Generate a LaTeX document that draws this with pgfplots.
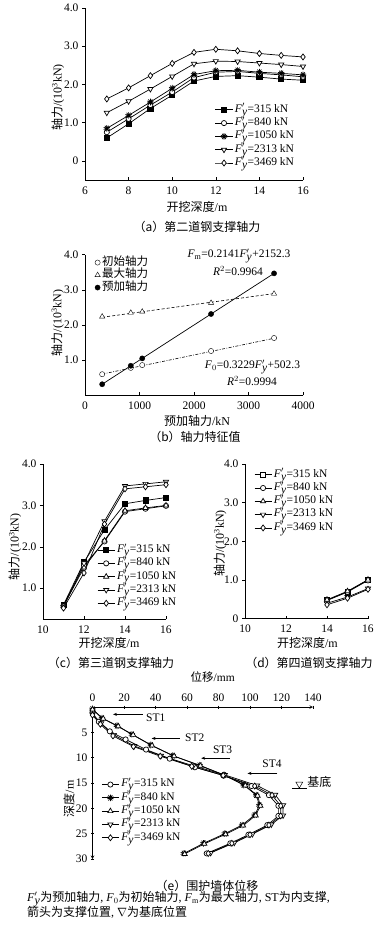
\documentclass[border=0pt]{standalone}
\usepackage{fontspec}
\setmainfont{Liberation Serif}
\newfontfamily\cjk{Noto Sans CJK SC}
\usepackage{pgfplots}
\pgfplotsset{compat=1.18}
\usetikzlibrary{plotmarks,arrows.meta,shapes.geometric}
\newcommand{\zh}[1]{{\cjk #1}}
\newcommand{\Fy}{\textit{F}$'_{\textit{y}}$}
\pgfplotsset{
  /pgf/number format/assume math mode=true,
  /pgf/number format/1000 sep={},
  panel/.style={
    scale only axis, axis lines=left, axis line style={-, line width=0.6pt},
    enlargelimits=false, clip=false,
    tick align=outside, major tick length=3pt,
    tick style={black, line width=0.6pt},
    xtick style={yshift=3pt},
    font=\fontsize{11.5}{13}\selectfont,
    label style={font=\fontsize{12}{14}\selectfont},
    xlabel style={anchor=center},
    ylabel style={anchor=center, rotate=0},
    legend cell align=left,
    legend style={draw=none, fill=none, inner sep=0pt, row sep=0pt,
      nodes={inner ysep=1.5pt, inner xsep=2pt, text height=7.5pt, text depth=2.8pt},
      font=\fontsize{11.5}{13}\selectfont},
  },
  base/.style={black, line width=0.7pt, mark size=2.6pt},
  s315/.style={base, mark=square*, mark options={fill=black, solid}},
  s315o/.style={base, mark=square*, mark options={fill=white, solid}},
  s840/.style={base, mark=*, mark options={fill=white, solid}},
  s1050/.style={base, mark=10-pointed star, mark options={fill=white, solid}, mark size=3.3pt},
  s1050t/.style={base, mark=triangle*, mark options={fill=white, solid}, mark size=3pt},
  s2313/.style={base, mark=triangle*, mark options={fill=white, solid, rotate=180}, mark size=3pt},
  s3469/.style={base, mark=diamond*, mark options={fill=white, solid}, mark size=3pt},
}
\begin{document}
\begin{tikzpicture}[x=1pt,y=1pt]
\path[use as bounding box] (0,0) rectangle (391,-936);

% ---------------- (a)
\begin{axis}[panel, at={(85pt,-180pt)}, anchor=south west,
  width=218pt, height=172pt,
  xmin=6, xmax=16, ymin=-0.5, ymax=4,
  xtick={6,8,...,16}, ytick={0,1,2,3,4}, yticklabels={0,1.0,2.0,3.0,4.0},
  xlabel={\zh{开挖深度}/m}, ylabel={\zh{轴力}/(10\textsuperscript{3}kN)},
  xlabel style={at={(axis description cs:0.514,-0.157)}},
  ylabel style={at={(axis description cs:-0.124,0.48)}},
  legend style={at={(axis description cs:0.596,0.448)}, anchor=north west}]
\addplot[s315] coordinates {(7,0.60)(8,0.97)(9,1.37)(10,1.72)(11,2.09)(12,2.21)(13,2.23)(14,2.19)(15,2.14)(16,2.11)};
\addplot[s840] coordinates {(7,0.75)(8,1.10)(9,1.46)(10,1.80)(11,2.18)(12,2.32)(13,2.34)(14,2.29)(15,2.25)(16,2.20)};
\addplot[s1050] coordinates {(7,0.85)(8,1.19)(9,1.54)(10,1.90)(11,2.26)(12,2.36)(13,2.37)(14,2.32)(15,2.29)(16,2.25)};
\addplot[s2313] coordinates {(7,1.26)(8,1.56)(9,1.88)(10,2.21)(11,2.54)(12,2.61)(13,2.60)(14,2.56)(15,2.52)(16,2.47)};
\addplot[s3469] coordinates {(7,1.62)(8,1.91)(9,2.23)(10,2.55)(11,2.84)(12,2.92)(13,2.88)(14,2.81)(15,2.76)(16,2.72)};
\legend{\Fy=315 kN,\Fy=840 kN,\Fy=1050 kN,\Fy=2313 kN,\Fy=3469 kN}
\end{axis}
\node[font=\fontsize{12}{14}\selectfont] at (197,-226.7) {\zh{（a）第二道钢支撑轴力}};

% ---------------- (b)
\begin{axis}[panel, at={(85pt,-395.3pt)}, anchor=south west,
  width=218pt, height=140.6pt,
  xmin=0, xmax=4000, ymin=0, ymax=4,
  xtick={0,1000,...,4000}, ytick={1,2,3,4}, yticklabels={1.0,2.0,3.0,4.0},
  xlabel={\zh{预加轴力}/kN}, ylabel={\zh{轴力}/(10\textsuperscript{3}kN)},
  xlabel style={at={(axis description cs:0.514,-0.18)}},
  ylabel style={at={(axis description cs:-0.126,0.514)}},
  legend style={at={(axis description cs:0.045,0.99)}, anchor=north west,
    nodes={text height=7.5pt, text depth=2pt}},
  legend image code/.code={\draw[mark repeat=2,mark phase=2] plot coordinates {(0cm,0cm)(0.15cm,0cm)(0.3cm,0cm)};}]
\addplot[black, line width=0.6pt, dash pattern=on 3pt off 1.5pt on 0.8pt off 1.5pt, forget plot] coordinates {(315,0.604)(3469,1.622)};
\addplot[black, line width=0.6pt, dash pattern=on 3pt off 2pt, forget plot] coordinates {(315,2.220)(3469,2.895)};
\addplot[black, line width=0.7pt, forget plot] coordinates {(315,0.315)(3469,3.469)};
\addplot[only marks, mark=*, mark options={fill=white, draw=black}, mark size=2.6pt] coordinates {(315,0.60)(840,0.78)(1050,0.86)(2313,1.26)(3469,1.63)};
\addplot[only marks, mark=triangle*, mark options={fill=white, draw=black}, mark size=3pt] coordinates {(315,2.24)(840,2.35)(1050,2.38)(2313,2.63)(3469,2.89)};
\addplot[only marks, mark=*, mark options={fill=black, draw=black}, mark size=2.6pt] coordinates {(315,0.315)(840,0.84)(1050,1.05)(2313,2.313)(3469,3.469)};
\legend{\zh{初始轴力},\zh{最大轴力},\zh{预加轴力}}
\node[font=\fontsize{11.5}{13}\selectfont] at (axis cs:2826,3.96) {\textit{F}$_{\mathrm{m}}$=0.2141\Fy+2152.3};
\node[font=\fontsize{11.5}{13}\selectfont] at (axis cs:2807,3.54) {\textit{R}$^{2}$=0.9964};
\node[font=\fontsize{11.5}{13}\selectfont] at (axis cs:3073,0.80) {\textit{F}$_{0}$=0.3229\Fy+502.3};
\node[font=\fontsize{11.5}{13}\selectfont] at (axis cs:3064,0.41) {\textit{R}$^{2}$=0.9994};
\end{axis}
\node[font=\fontsize{12}{14}\selectfont] at (195,-437) {\zh{（b）轴力特征值}};

% ---------------- (c)
\begin{axis}[panel, at={(43pt,-619.3pt)}, anchor=south west,
  width=123pt, height=155.3pt,
  xmin=10, xmax=16, ymin=0.25, ymax=4,
  xtick={10,12,14,16}, ytick={1,2,3,4}, yticklabels={1.0,2.0,3.0,4.0},
  xlabel={\zh{开挖深度}/m}, ylabel={\zh{轴力}/(10\textsuperscript{3}kN)},
  xlabel style={at={(axis description cs:0.537,-0.155)}},
  ylabel style={at={(axis description cs:-0.228,0.467)}},
  legend style={at={(axis description cs:0.44,0.49)}, anchor=north west}]
\addplot[s315] coordinates {(11,0.60)(12,1.63)(13,2.41)(14,3.04)(15,3.12)(16,3.19)};
\addplot[s840] coordinates {(11,0.58)(12,1.55)(13,2.13)(14,2.85)(15,2.92)(16,2.99)};
\addplot[s1050t] coordinates {(11,0.57)(12,1.50)(13,2.15)(14,2.87)(15,2.94)(16,3.00)};
\addplot[s2313] coordinates {(11,0.55)(12,1.60)(13,2.62)(14,3.47)(15,3.52)(16,3.57)};
\addplot[s3469] coordinates {(11,0.52)(12,1.37)(13,2.55)(14,3.40)(15,3.45)(16,3.50)};
\legend{\Fy=315 kN,\Fy=840 kN,\Fy=1050 kN,\Fy=2313 kN,\Fy=3469 kN}
\end{axis}
\node[font=\fontsize{12}{14}\selectfont] at (111,-663) {\zh{（c）第三道钢支撑轴力}};

% ---------------- (d)
\begin{axis}[panel, at={(245pt,-618.7pt)}, anchor=south west,
  width=123pt, height=154.7pt,
  xmin=10, xmax=16, ymin=0, ymax=4,
  xtick={10,12,14,16}, ytick={0,1,2,3,4}, yticklabels={0,1.0,2.0,3.0,4.0},
  xlabel={\zh{开挖深度}/m}, ylabel={\zh{轴力}/(10\textsuperscript{3}kN)},
  xlabel style={at={(axis description cs:0.508,-0.159)}},
  ylabel style={at={(axis description cs:-0.203,0.487)}},
  legend style={at={(axis description cs:0.073,0.975)}, anchor=north west}]
\addplot[s315o] coordinates {(14,0.48)(15,0.70)(16,1.00)};
\addplot[s840] coordinates {(14,0.47)(15,0.69)(16,0.99)};
\addplot[s1050t] coordinates {(14,0.49)(15,0.71)(16,1.01)};
\addplot[s2313] coordinates {(14,0.40)(15,0.56)(16,0.78)};
\addplot[s3469] coordinates {(14,0.36)(15,0.53)(16,0.76)};
\legend{\Fy=315 kN,\Fy=840 kN,\Fy=1050 kN,\Fy=2313 kN,\Fy=3469 kN}
\end{axis}
\node[font=\fontsize{12}{14}\selectfont] at (309,-663) {\zh{（d）第四道钢支撑轴力}};

% ---------------- (e)
\begin{axis}[panel, at={(92.5pt,-859pt)}, anchor=south west,
  width=220.5pt, height=152pt,
  axis x line=top, axis y line=left,
  xmin=0, xmax=140, ymin=0, ymax=30, y dir=reverse,
  xtick={0,20,...,140}, ytick={5,10,...,30},
  xtick style={yshift=-3pt},
  xlabel={\zh{位移}/mm}, ylabel={\zh{深度}/m},
  xlabel style={at={(axis description cs:0.545,1.138)}},
  ylabel style={at={(axis description cs:-0.106,0.395)}},
  legend style={at={(axis description cs:0.04,0.535)}, anchor=north west}]
\addplot[base, mark=*, mark options={fill=white, solid}] coordinates {(0,1.2)(4,2.9)(11,4.8)(21,6.4)(34,8.4)(49,10.2)(65,11.9)(83,13.5)(101,15.6)(112,17.4)(118,19.5)(118,21.5)(111,23.3)(99,25.2)(87.5,26.9)(72.5,28.9)};
\addplot[s1050] coordinates {(0,0.4)(6,2.2)(15.5,3.7)(25,5.4)(37,7.5)(51,9.6)(68,11.5)(83.5,13.4)(96,15.4)(104,17.4)(106,19.4)(103,21.3)(95,23.3)(84,25.0)(70.5,26.9)(58,28.9)};
\addplot[s1050t] coordinates {(0,0.5)(6.8,2.3)(16.3,3.8)(25.8,5.5)(37.8,7.6)(51.8,9.7)(68.5,11.6)(84,13.5)(97,15.5)(104.8,17.5)(106.6,19.5)(103.6,21.4)(95.6,23.4)(84.5,25.1)(71,27.0)(58.5,29.0)};
\addplot[s2313] coordinates {(0,1.4)(5.5,3.2)(13.5,5.5)(26.5,7.7)(43.5,9.6)(64,11.6)(84,13.4)(104.5,15.5)(116,17.3)(121,19.4)(121,21.4)(113.5,23.2)(101.5,25.1)(90,26.8)(75,28.8)};
\addplot[s3469] coordinates {(0,1.6)(5,3.4)(13,5.7)(26,7.8)(43,9.7)(63,11.7)(83,13.5)(103,15.6)(114,17.4)(119.5,19.5)(119.5,21.5)(112,23.3)(100,25.2)(88.5,26.9)(73.5,28.9)};
\legend{\Fy=315 kN,\Fy=840 kN,\Fy=1050 kN,\Fy=2313 kN,\Fy=3469 kN}
\draw[-{Stealth[length=4pt,width=3pt]}, line width=0.5pt] (axis cs:32,1.45) -- (axis cs:13,1.45);
\node[font=\fontsize{11.5}{13}\selectfont] at (axis cs:40.2,2.2) {ST1};
\draw[-{Stealth[length=4pt,width=3pt]}, line width=0.5pt] (axis cs:55.4,6.2) -- (axis cs:37.5,6.2);
\node[font=\fontsize{11.5}{13}\selectfont] at (axis cs:64.9,6.1) {ST2};
\draw[-{Stealth[length=4pt,width=3pt]}, line width=0.5pt] (axis cs:87,10.1) -- (axis cs:69,10.1);
\node[font=\fontsize{11.5}{13}\selectfont] at (axis cs:82.6,8.5) {ST3};
\draw[-{Stealth[length=4pt,width=3pt]}, line width=0.5pt] (axis cs:117.4,13.1) -- (axis cs:98.4,13.1);
\node[font=\fontsize{11.5}{13}\selectfont] at (axis cs:114,11.2) {ST4};
\node[draw, isosceles triangle, shape border rotate=-90, isosceles triangle apex angle=60, inner sep=0pt, minimum size=6pt, line width=0.5pt] at (axis cs:131.3,15.2) {};
\draw[line width=0.5pt] (axis cs:126.6,16.0) -- (axis cs:136.5,16.0);
\node[font=\fontsize{12}{14}\selectfont] at (axis cs:144,14.7) {\zh{基底}};
\end{axis}
\node[font=\fontsize{12}{14}\selectfont] at (207,-885.7) {\zh{（e）围护墙体位移}};

\node[anchor=west, font=\fontsize{12}{13}\selectfont, inner sep=0pt] at (27,-899) {\Fy\zh{为预加轴力}, \textit{F}$_{0}$\zh{为初始轴力}, \textit{F}$_{\mathrm{m}}$\zh{为最大轴力}, ST\zh{为内支撑},};
\node[anchor=west, font=\fontsize{12}{13}\selectfont, inner sep=0pt] at (27,-912.5) {\zh{箭头为支撑位置}, $\nabla$\zh{为基底位置}};
\end{tikzpicture}
\end{document}
